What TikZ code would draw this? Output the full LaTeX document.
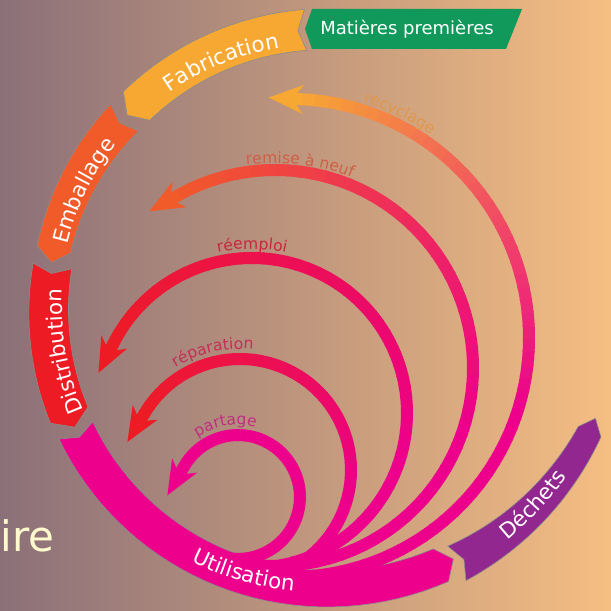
\documentclass[tikz,border=0pt]{standalone}
\usepackage{fontspec}
\setmainfont{DejaVu Sans}
\usetikzlibrary{arrows.meta, decorations.text}

\definecolor{mat}{RGB}{16,153,90}
\definecolor{fab}{RGB}{247,168,51}
\definecolor{emb}{RGB}{241,90,41}
\definecolor{dis}{RGB}{237,28,36}
\definecolor{uti}{RGB}{236,0,140}
\definecolor{dec}{RGB}{146,39,143}
\definecolor{bgl}{RGB}{139,112,121}
\definecolor{bgr}{RGB}{245,190,130}
\definecolor{cream}{RGB}{255,250,205}
\definecolor{recytext}{RGB}{226,150,75}
\definecolor{remtext}{RGB}{208,95,70}
\definecolor{reemtext}{RGB}{200,40,60}
\definecolor{reptext}{RGB}{200,45,85}
\definecolor{partext}{RGB}{195,45,130}

% band of the ring: colour, start angle, end angle, inner radius (start, end), outer radius (start, end)
\newcommand{\ringpart}[7]{%
  \filldraw[fill=#1, draw=black!45, line width=0.3pt]
    plot[domain=#2:#3, samples=36] (\x:{#6+(#7-#6)*(\x-#2)/(#3-#2)})
    -- ({#3+2.8}:{(#5+#7)/2})
    -- plot[domain=#3:#2, samples=36] (\x:{#4+(#5-#4)*(\x-#2)/(#3-#2)})
    -- ({#2+1.6}:{(#4+#6)/2})
    -- cycle;}

% loop back from Utilisation: centre, radius, end angle, colour at the head
\newcommand{\backloop}[4]{%
  \foreach \k in {0,...,59}{%
    \pgfmathsetmacro{\angA}{-100+(#3+100)*\k/60}%
    \pgfmathsetmacro{\angB}{\angA+(#3+100)/60+0.5}%
    \pgfmathtruncatemacro{\pct}{max(0,min(100,(\angA+20)/(#3+20)*100))}%
    \draw[loopline, color=#4!\pct!uti, shift={(#1)}] (\angA:#2) arc[start angle=\angA, end angle=\angB, radius=#2];
  }%
  \draw[loopline, color=#4, shift={(#1)}, -{Stealth[length=17pt, width=14pt, inset=5pt]}] (#3:#2) -- ++(#3+90:34);
}

\begin{document}
\begin{tikzpicture}[x=0.5pt, y=0.5pt,
    loopline/.style={line width=6pt},
    seglabel/.style={decorate, decoration={text along path, text align=center, text color=white,
      text={|\fontsize{10.7}{13}\selectfont|#1}}},
    looplabel/.style 2 args={decorate, decoration={text along path, text align=center, text color=#1,
      text={|\fontsize{7.8}{9}\selectfont|#2}}}]

\useasboundingbox (0,0) rectangle (611,611);
\clip (0,0) rectangle (611,611);
\shade[left color=bgl, right color=bgr] (0,0) rectangle (611,611);

\node[anchor=base west, inner sep=0pt, text=cream, font=\fontsize{21}{25}\selectfont] (ire) at (0,60) {ire};

\coordinate (ring) at (320,305);
\coordinate (partagec) at (238,114);
\coordinate (reparc) at (240,141);
\coordinate (reemc) at (252,198);
\coordinate (remisec) at (275,243);
\coordinate (recyc) at (290,273);

% the ring
\begin{scope}[shift={(ring)}]
  \ringpart{fab}{93}{132.5}{256}{252}{297}{291}
  \ringpart{emb}{136}{168}{252}{255}{291}{289}
  \ringpart{dis}{171.5}{203.5}{251}{253}{290}{294}
  \ringpart{uti}{207}{295}{255}{268}{293}{304}
  \ringpart{dec}{298}{335}{272}{285}{311}{310}

  \path[seglabel={Fabrication}] (132:261) arc[start angle=132, end angle=92, radius=261];
  \path[seglabel={Emballage}] (170:260) arc[start angle=170, end angle=138, radius=260];
  \path[seglabel={Distribution}] (206:258) arc[start angle=206, end angle=174, radius=258];
  \path[seglabel={Déchets}] (297:300) arc[start angle=297, end angle=337, radius=300];
\end{scope}

% raw materials banner
\fill[mat] (312,602) -- (522,602) -- (506,562) -- (312,562) -- (305,582) -- cycle;
\node[text=white, font=\fontsize{9}{11}\selectfont] (matieres) at (407,582) {Matières premières};

% loops
\backloop{recyc}{239}{87}{fab}
\backloop{remisec}{198}{119}{emb}
\backloop{reemc}{155}{153}{dis}
\backloop{reparc}{111}{149}{dis}
\backloop{partagec}{62}{150}{uti}

% label of the bottom band goes over the loop ends
\path[seglabel={Utilisation}, shift={(ring)}] (224:286) arc[start angle=224, end angle=284, radius=286];

\path[looplabel={recytext}{recyclage}, shift={(recyc)}] (80:247) arc[start angle=80, end angle=48, radius=247];
\path[looplabel={remtext}{remise à neuf}, shift={(remisec)}] (105:205) arc[start angle=105, end angle=61, radius=205];
\path[looplabel={reemtext}{réemploi}, shift={(reemc)}] (115:164) arc[start angle=115, end angle=65, radius=164];
\path[looplabel={reptext}{réparation}, shift={(reparc)}] (135:121) arc[start angle=135, end angle=71, radius=121];
\path[looplabel={partext}{partage}, shift={(partagec)}] (135:72) arc[start angle=135, end angle=65, radius=72];
\end{tikzpicture}
\end{document}
